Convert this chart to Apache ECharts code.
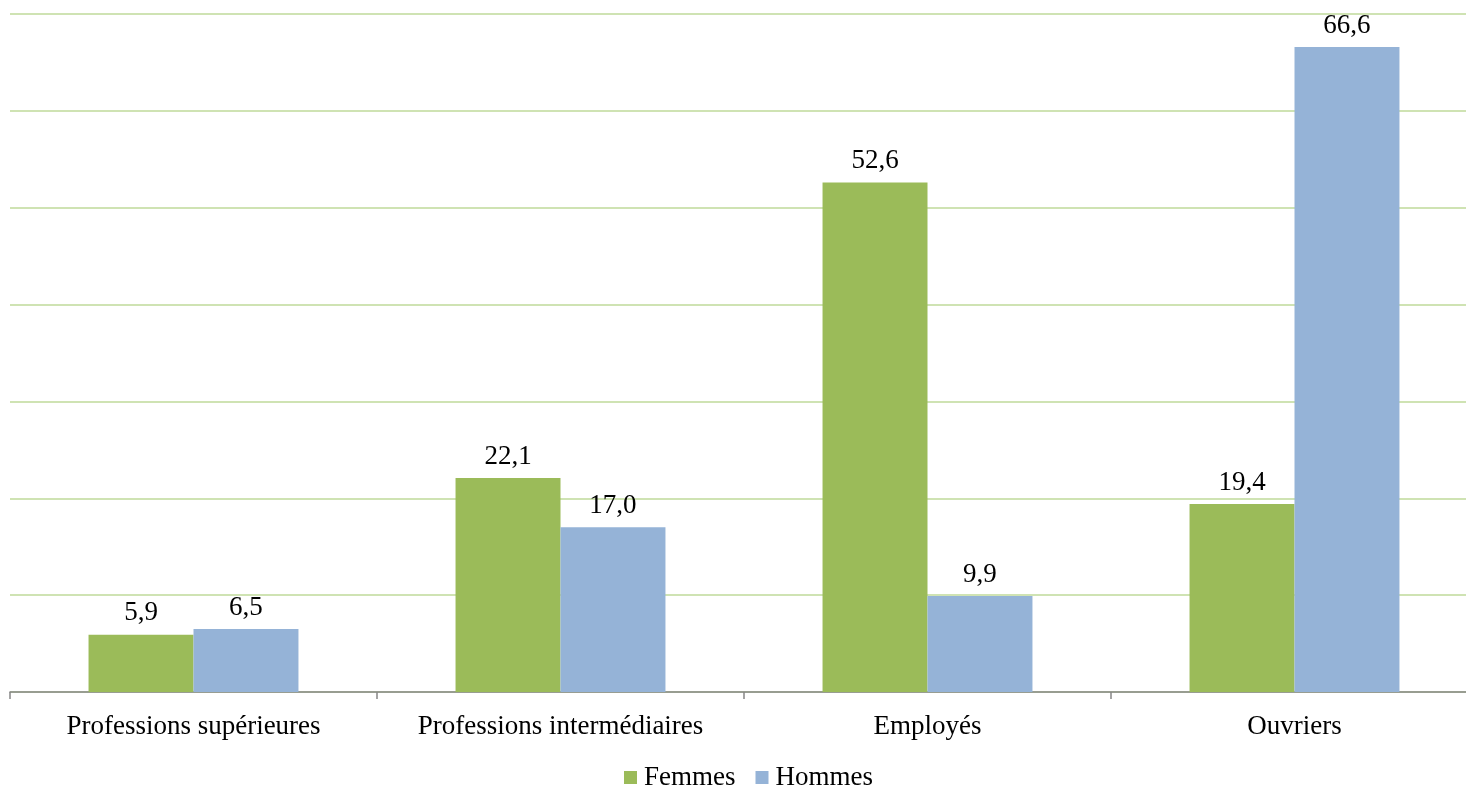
<!DOCTYPE html>
<html>
<head>
<meta charset="utf-8">
<script src="https://cdn.jsdelivr.net/npm/echarts@6/dist/echarts.min.js"></script>
<style>
  html, body { margin: 0; padding: 0; background: #fff; overflow: hidden; }
  #chart { width: 1466px; height: 789px; }
</style>
</head>
<body>
<div id="chart"></div>
<script>
// Catégories socioprofessionnelles et parts (%) par sexe
const categories = ['Professions supérieures', 'Professions intermédiaires', 'Employés', 'Ouvriers'];
const femmes = [5.9, 22.1, 52.6, 19.4];
const hommes = [6.5, 17.0, 9.9, 66.6];
const seriesNames = ['Femmes', 'Hommes'];

const FONT = '"Liberation Serif", "Times New Roman", serif';
const fmt = p => p.value.toFixed(1).replace('.', ',');

const chart = echarts.init(document.getElementById('chart'), null, { renderer: 'canvas' });

const labelStyle = {
  show: true,
  position: 'top',
  distance: 8,
  formatter: fmt,
  fontFamily: FONT,
  fontSize: 27,
  color: '#000'
};

chart.setOption({
  animation: false,
  textStyle: { fontFamily: FONT },
  // plot area runs slightly past the right edge of the canvas
  grid: { left: 10, width: 1468, top: 14, height: 678, containLabel: false, outerBoundsMode: 'none' },
  legend: {
    data: seriesNames,
    top: 764,
    left: 624,
    itemWidth: 13,
    itemHeight: 13,
    itemGap: 20,
    icon: 'rect',
    padding: 0,
    textStyle: { fontFamily: FONT, fontSize: 27, color: '#000', padding: [0, 0, 0, 2] }
  },
  xAxis: {
    type: 'category',
    data: categories,
    axisLine: { lineStyle: { color: '#868686', width: 1.5 } },
    axisTick: { show: true, interval: 0, length: 7, lineStyle: { color: '#868686', width: 1.5 } },
    axisLabel: { interval: 0, margin: 21, fontFamily: FONT, fontSize: 27, color: '#000' }
  },
  yAxis: {
    type: 'value',
    min: 0,
    max: 70,
    interval: 10,
    axisLine: { show: false },
    axisTick: { show: false },
    axisLabel: { show: false },
    splitLine: { lineStyle: { color: '#cfe3b3', width: 2 } }
  },
  series: [
    {
      name: seriesNames[0],
      type: 'bar',
      data: femmes,
      barGap: '0%',
      barCategoryGap: '42.8%',
      itemStyle: { color: '#9bbb59' },
      label: labelStyle
    },
    {
      name: seriesNames[1],
      type: 'bar',
      data: hommes,
      barGap: '0%',
      barCategoryGap: '42.8%',
      itemStyle: { color: '#95b3d7' },
      label: labelStyle
    }
  ]
});
</script>
</body>
</html>
